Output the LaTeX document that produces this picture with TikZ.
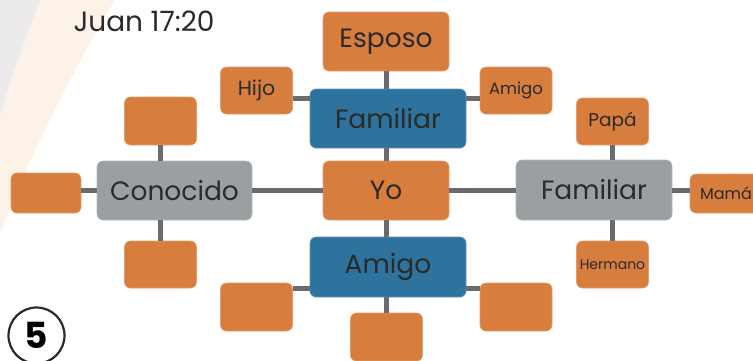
\documentclass[tikz,border=0pt]{standalone}
\usepackage{fontspec}
\setmainfont{Poppins}
\usetikzlibrary{positioning,calc}
\definecolor{boxorange}{HTML}{D77D3E}
\definecolor{boxblue}{HTML}{2E729E}
\definecolor{boxgrey}{HTML}{9AA0A2}
\definecolor{linkgrey}{HTML}{6A6B70}
\definecolor{ink}{HTML}{2A2A2A}
\definecolor{paper}{HTML}{FCF2E8}
\definecolor{cornergrey}{HTML}{ECEAEA}

\begin{document}
\begin{tikzpicture}[x=1pt,y=-1pt,
    box/.style={rounded corners=6pt,inner sep=0pt,text=ink,fill=#1,draw=#1!75!white,line width=0.6pt},
    hub/.style={box=#1,minimum width=156pt,minimum height=59pt,font=\fontsize{26.5}{30}\selectfont},
    leaf/.style={box=boxorange,minimum width=72pt,minimum height=47pt},
    link/.style={linkgrey,line width=5pt}]
        \useasboundingbox (0,0) rectangle (753,360);
        \fill[paper] (115,0) .. controls (90,40) and (30,150) .. (0,235) -- (0,0) -- cycle;
        \fill[cornergrey] (0,0) -- (40,0) .. controls (25,40) and (10,80) .. (0,115) -- cycle;
        \node[anchor=base west,text=ink,font=\fontsize{28}{30}\selectfont] (verse) at (70,31) {Juan 17:20};
        \node[circle,draw=ink,line width=2.2pt,minimum size=56pt,inner sep=0pt,font=\fontsize{36}{36}\selectfont\bfseries] (num) at (36.5,335.5) {5};
        % centre
        \node[hub=boxorange,minimum width=126pt] (yo) at (386,190.5) {Yo};
        \node[hub=boxblue] (famA) at (388,118.5) {Familiar};
        \node[hub=boxblue,minimum height=60pt] (amigoB) at (388,267) {Amigo};
        \node[hub=boxgrey,minimum width=155pt] (conocido) at (174.5,190.5) {Conocido};
        \node[hub=boxgrey,minimum height=60pt] (famG) at (594,190) {Familiar};
        % leaves
        \node[hub=boxorange,minimum width=126pt] (esposo) at (386,41.5) {Esposo};
        \node[leaf,font=\fontsize{20.5}{22}\selectfont] (hijo) at (256.5,90.5) {Hijo};
        \node[leaf,font=\fontsize{16.5}{18}\selectfont] (amigoS) at (516,90.5) {Amigo};
        \node[leaf,font=\fontsize{18.5}{20}\selectfont] (papa) at (612.5,121.5) {Papá};
        \node[leaf,font=\fontsize{14}{15}\selectfont] (hermano) at (612.5,264.5) {Hermano};
        \node[leaf,minimum height=39pt,font=\fontsize{16}{18}\selectfont] (mama) at (726,193.5) {Mamá};
        \node[leaf,minimum height=48pt] (conU) at (160.5,121) {};
        \node[leaf] (conD) at (160.5,264.5) {};
        \node[leaf,minimum width=70pt,minimum height=40pt] (conL) at (46,193) {};
        \node[leaf,minimum height=48pt] (amiL) at (256.5,307) {};
        \node[leaf,minimum height=48pt] (amiR) at (516,307) {};
        \node[leaf,minimum height=48pt] (amiD) at (386.5,337) {};
        % links
        \draw[link] (yo.west) -- (conocido.east);
        \draw[link] (yo.east) -- (yo.east -| famG.west);
        \draw[link] (yo.north) -- (yo.north |- famA.south);
        \draw[link] (yo.south) -- (yo.south |- amigoB.north);
        \draw[link] (esposo.south) -- (esposo.south |- famA.north);
        \draw[link] ([yshift=-7.5pt]hijo.east) -- ([yshift=-7.5pt]hijo.east -| famA.west);
        \draw[link] ([yshift=-7.5pt]amigoS.west) -- ([yshift=-7.5pt]amigoS.west -| famA.east);
        \draw[link] (amiD.north) -- (amiD.north |- amigoB.south);
        \draw[link] ([yshift=19pt]amiL.east) -- ([yshift=19pt]amiL.east -| amigoB.west);
        \draw[link] ([yshift=19pt]amiR.west) -- ([yshift=19pt]amiR.west -| amigoB.east);
        \draw[link] (conocido.west) -- (conocido.west -| conL.east);
        \draw[link] (conU.south) -- (conU.south |- conocido.north);
        \draw[link] (conD.north) -- (conD.north |- conocido.south);
        \draw[link] (papa.south) -- (papa.south |- famG.north);
        \draw[link] (hermano.north) -- (hermano.north |- famG.south);
        \draw[link] (famG.east) -- (famG.east -| mama.west);
      \end{tikzpicture}
\end{document}
